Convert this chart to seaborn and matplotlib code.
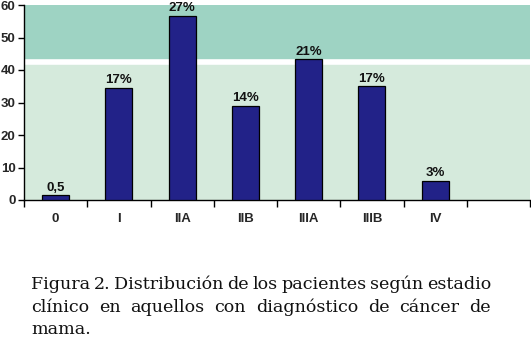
import matplotlib
matplotlib.use("Agg")
import matplotlib.pyplot as plt
import seaborn as sns
import pandas as pd

# Data
stages = ["0", "I", "IIA", "IIB", "IIIA", "IIIB", "IV"]
patients = [1.4, 34.6, 56.6, 29, 43.3, 35, 6]
bar_labels = ["0,5", "17%", "27%", "14%", "21%", "17%", "3%"]
caption_lines = [
    "Figura 2. Distribución de los pacientes según estadio",
    "clínico en aquellos con diagnóstico de cáncer de",
    "mama.",
]

sns.set_theme(style="white")
plt.rcParams["font.family"] = ["Liberation Sans", "DejaVu Sans"]

df = pd.DataFrame({"stage": stages, "n": patients})

W, H = 531, 340
fig = plt.figure(figsize=(W / 100, H / 100), dpi=100)
ax = fig.add_axes([24 / W, 1 - 200 / H, 506 / W, 195 / H])
ax.set_facecolor("white")

# background bands
ax.axhspan(0, 41.5, color="#d5eadc", zorder=0)
ax.axhspan(43.7, 60, color="#9ed3c3", zorder=0)

sns.barplot(data=df, x="stage", y="n", color="#222288", saturation=1,
            width=0.43, edgecolor="black", linewidth=0.9, ax=ax, zorder=3)

for i, (v, lab) in enumerate(zip(patients, bar_labels)):
    ax.text(i, v + 0.5, lab, ha="center", va="bottom", fontsize=9.5,
            fontweight="bold", color="#111111", zorder=4)

ax.set_xlim(-0.5, 7.5)
ax.set_ylim(0, 60)
ax.set_yticks(range(0, 61, 10))
ax.set_xticks(range(len(stages)))
ax.set_xticklabels(stages)
ax.set_xticks([i - 0.5 for i in range(9)], minor=True)
ax.tick_params(axis="x", which="major", length=0, pad=9, labelsize=9.5)
ax.tick_params(axis="x", which="minor", length=5, width=1, color="black",
               direction="out", bottom=True)
ax.tick_params(axis="y", length=4, width=1, color="black", direction="out",
               left=True, labelsize=9.5, pad=2)
for t in ax.get_xticklabels() + ax.get_yticklabels():
    t.set_fontweight("bold")
ax.set_xlabel("")
ax.set_ylabel("")
for s in ["top", "right"]:
    ax.spines[s].set_visible(False)
for s in ["left", "bottom"]:
    ax.spines[s].set_color("black")
    ax.spines[s].set_linewidth(1)

# caption, justified like the source
cap_font = dict(family=["DejaVu Serif"], fontsize=12.6, color="#111111")
x0, x1 = 31, 491
baselines = [289, 312, 334]
renderer = fig.canvas.get_renderer()
for k, (line, yb) in enumerate(zip(caption_lines, baselines)):
    words = line.split(" ")
    yf = 1 - yb / H
    if k == len(caption_lines) - 1:
        fig.text(x0 / W, yf, line, va="baseline", ha="left", **cap_font)
        continue
    txts = [fig.text(0, yf, w, va="baseline", ha="left", **cap_font) for w in words]
    widths = [t.get_window_extent(renderer).width for t in txts]
    gap = (x1 - x0 - sum(widths)) / (len(words) - 1)
    x = x0
    for t, w in zip(txts, widths):
        t.set_x(x / W)
        x += w + gap

fig.savefig("out.png", dpi=100)
